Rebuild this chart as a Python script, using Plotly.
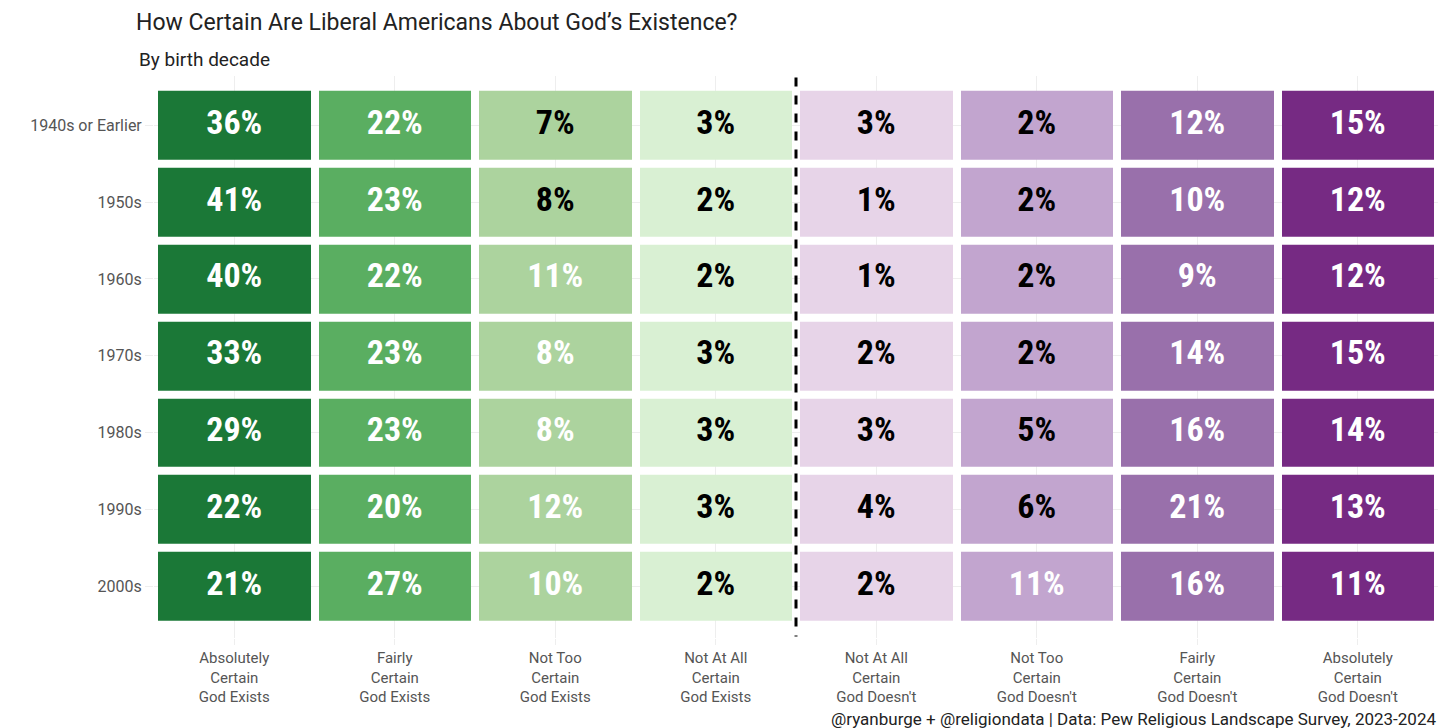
import plotly.graph_objects as go

decades = ["1940s or Earlier", "1950s", "1960s", "1970s", "1980s", "1990s", "2000s"]
answers = ["Absolutely<br>Certain<br>God Exists", "Fairly<br>Certain<br>God Exists",
           "Not Too<br>Certain<br>God Exists", "Not At All<br>Certain<br>God Exists",
           "Not At All<br>Certain<br>God Doesn't", "Not Too<br>Certain<br>God Doesn't",
           "Fairly<br>Certain<br>God Doesn't", "Absolutely<br>Certain<br>God Doesn't"]
values = [
    [36, 22, 7, 3, 3, 2, 12, 15],
    [41, 23, 8, 2, 1, 2, 10, 12],
    [40, 22, 11, 2, 1, 2, 9, 12],
    [33, 23, 8, 3, 2, 2, 14, 15],
    [29, 23, 8, 3, 3, 5, 16, 14],
    [22, 20, 12, 3, 4, 6, 21, 13],
    [21, 27, 10, 2, 2, 11, 16, 11],
]
col_colors = ["#1b7837", "#5aae61", "#acd39e", "#d9f0d3",
              "#e7d4e8", "#c2a5cf", "#9970ab", "#762a83"]
dark_text = [
    [0, 0, 1, 1, 1, 1, 0, 0],
    [0, 0, 1, 1, 1, 1, 0, 0],
    [0, 0, 0, 1, 1, 1, 0, 0],
    [0, 0, 0, 1, 1, 1, 0, 0],
    [0, 0, 0, 1, 1, 1, 0, 0],
    [0, 0, 0, 1, 1, 1, 0, 0],
    [0, 0, 0, 1, 1, 0, 0, 0],
]

n = len(col_colors)
scale = []
for i, c in enumerate(col_colors):
    scale.append([i / n, c])
    scale.append([(i + 1) / n, c])

fig = go.Figure()
fig.add_trace(go.Heatmap(
    z=[list(range(n)) for _ in decades], x=answers, y=decades,
    zmin=-0.5, zmax=n - 0.5, colorscale=scale, showscale=False,
    xgap=8, ygap=8, hoverinfo="skip"))

xs, ys, txt, cols = [], [], [], []
for r, d in enumerate(decades):
    for c, a in enumerate(answers):
        xs.append(a); ys.append(d); txt.append(f"{values[r][c]}%")
        cols.append("black" if dark_text[r][c] else "white")
fig.add_trace(go.Scatter(x=xs, y=ys, text=txt, mode="text",
                         textfont=dict(color=cols, size=34, family="Roboto Condensed, Roboto", weight="bold"),
                         hoverinfo="skip", showlegend=False))

fig.add_shape(type="line", x0=3.5, x1=3.5, y0=-0.62, y1=6.65, xref="x", yref="y",
              line=dict(color="black", width=3, dash="dash"))

fig.update_layout(
    width=1456, height=728, plot_bgcolor="white", paper_bgcolor="white",
    margin=dict(l=146, r=26, t=68, b=98, autoexpand=False),
    font=dict(family="Roboto", color="#444"),
    title=dict(text="How Certain Are Liberal Americans About God’s Existence?",
               x=128 / 1456, xanchor="left", yref="container", y=1 - 14 / 728, yanchor="middle",
               font=dict(size=23, color="#222")),
    annotations=[
        dict(text="By birth decade", x=-0.013, y=1.03, xref="paper", yref="paper",
             xanchor="left", yanchor="middle", showarrow=False, font=dict(size=19, color="#222")),
        dict(text="@ryanburge + @religiondata | Data: Pew Religious Landscape Survey, 2023-2024",
             x=1, y=-0.145, xref="paper", yref="paper", xanchor="right", yanchor="middle",
             showarrow=False, font=dict(size=17, color="#222"))],
)
fig.update_xaxes(showgrid=True, gridcolor="#eee", tickfont=dict(size=15, color="#555"),
                 ticks="outside", tickcolor="#eee", ticklen=6, range=[-0.5, 7.5])
fig.update_yaxes(autorange="reversed", showgrid=True, gridcolor="#eee",
                 tickfont=dict(size=16, color="#555"), ticks="outside", tickcolor="#eee", ticklen=8)

fig.write_html("out.html")
